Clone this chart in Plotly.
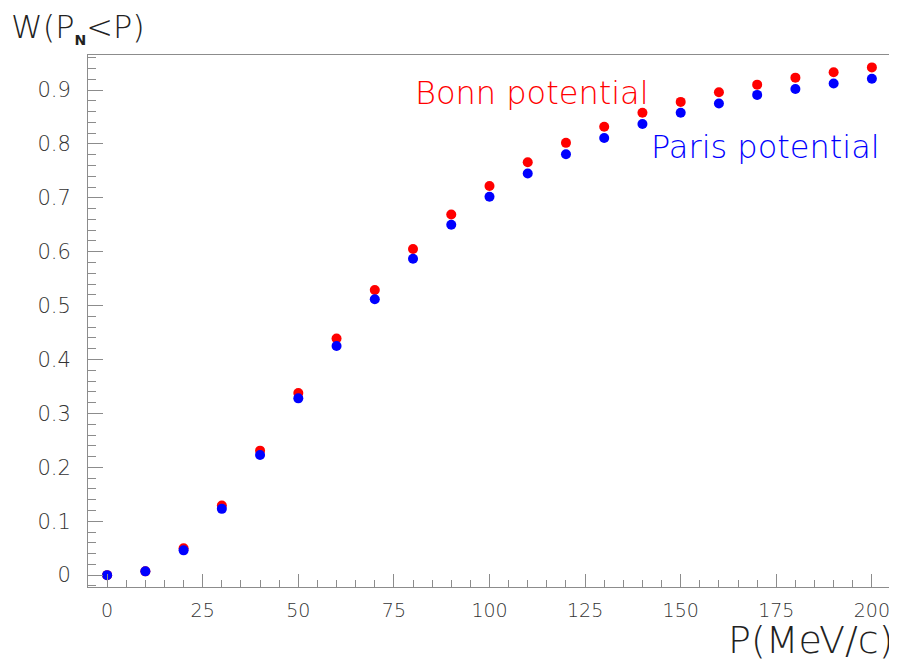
import plotly.graph_objects as go

p_values = [0, 10, 20, 30, 40, 50, 60, 70, 80, 90, 100, 110, 120, 130, 140, 150, 160, 170, 180, 190, 200]
bonn = [0.0, 0.007, 0.050, 0.129, 0.231, 0.338, 0.439, 0.529, 0.605, 0.669, 0.722, 0.766, 0.802,
        0.832, 0.858, 0.878, 0.896, 0.910, 0.923, 0.933, 0.942]
paris = [0.0, 0.007, 0.046, 0.123, 0.223, 0.328, 0.425, 0.512, 0.587, 0.650, 0.702, 0.745, 0.781,
         0.811, 0.837, 0.858, 0.875, 0.891, 0.902, 0.912, 0.921]
x_ticks = [0, 25, 50, 75, 100, 125, 150, 175, 200]
y_ticks = [0, 0.1, 0.2, 0.3, 0.4, 0.5, 0.6, 0.7, 0.8, 0.9]
y_ticktext = ["0", "0.1", "0.2", "0.3", "0.4", "0.5", "0.6", "0.7", "0.8", "0.9"]

FONT = "DejaVu Sans"
AX = "#8c8c8c"
TXT = "#333333"
WT = 200

# figure sized to account for the 8px page body margin
W, H = 889, 655
L, R, T, B = 80, 6, 47, 76
PW, PH = W - L - R, H - T - B


def px(xp):  # page pixel -> paper x
    return (xp - 8 - L) / PW


def py(yp):  # page pixel -> paper y
    return (H - B - (yp - 8)) / PH


fig = go.Figure()
fig.add_trace(go.Scatter(x=p_values, y=bonn, mode="markers", name="Bonn potential",
                         marker=dict(color="#ff0000", size=10), showlegend=False))
fig.add_trace(go.Scatter(x=p_values, y=paris, mode="markers", name="Paris potential",
                         marker=dict(color="#0000ff", size=10), showlegend=False))

fig.update_layout(
    width=W, height=H,
    margin=dict(l=L, r=R, t=T, b=B),
    plot_bgcolor="white", paper_bgcolor="white",
    font=dict(family=FONT, color=TXT, size=20, weight=WT),
    xaxis=dict(range=[-5, 205], tickvals=x_ticks,
               ticks="inside", ticklen=13, tickcolor=AX, tickwidth=1,
               minor=dict(dtick=5, tick0=0, ticks="inside", ticklen=7, tickcolor=AX),
               showline=True, linecolor=AX, linewidth=1, mirror=True,
               showgrid=False, zeroline=False, ticklabelstandoff=6,
               tickfont=dict(family=FONT, size=19, color=TXT, weight=WT)),
    yaxis=dict(range=[-0.022, 0.965], tickvals=y_ticks, ticktext=y_ticktext,
               ticks="inside", ticklen=15, tickcolor=AX, tickwidth=1,
               minor=dict(dtick=0.02, tick0=0, ticks="inside", ticklen=8, tickcolor=AX),
               showline=True, linecolor=AX, linewidth=1, mirror=True,
               showgrid=False, zeroline=False, ticklabelstandoff=12,
               tickfont=dict(family=FONT, size=21, color=TXT, weight=WT)),
)

fig.add_annotation(text="Bonn potential", x=px(413), y=py(93), xref="paper", yref="paper",
                   xanchor="left", yanchor="middle", showarrow=False,
                   font=dict(family=FONT, size=32, color="#ff0000", weight=WT))
fig.add_annotation(text="Paris potential", x=px(882), y=py(147), xref="paper", yref="paper",
                   xanchor="right", yanchor="middle", showarrow=False,
                   font=dict(family=FONT, size=32, color="#0000ff", weight=WT))
fig.add_annotation(text="W(P<sub><span style='font-size:14px;font-weight:700'>N</span></sub>&lt;P)",
                   x=px(9), y=py(28), xref="paper", yref="paper",
                   xanchor="left", yanchor="middle", showarrow=False,
                   font=dict(family=FONT, size=32, color="#222222", weight=WT))
fig.add_annotation(text="P(MeV/c)", x=px(895), y=py(640), xref="paper", yref="paper",
                   xanchor="right", yanchor="middle", showarrow=False,
                   font=dict(family=FONT, size=38, color="#222222", weight=WT))

fig.write_html("out.html")
